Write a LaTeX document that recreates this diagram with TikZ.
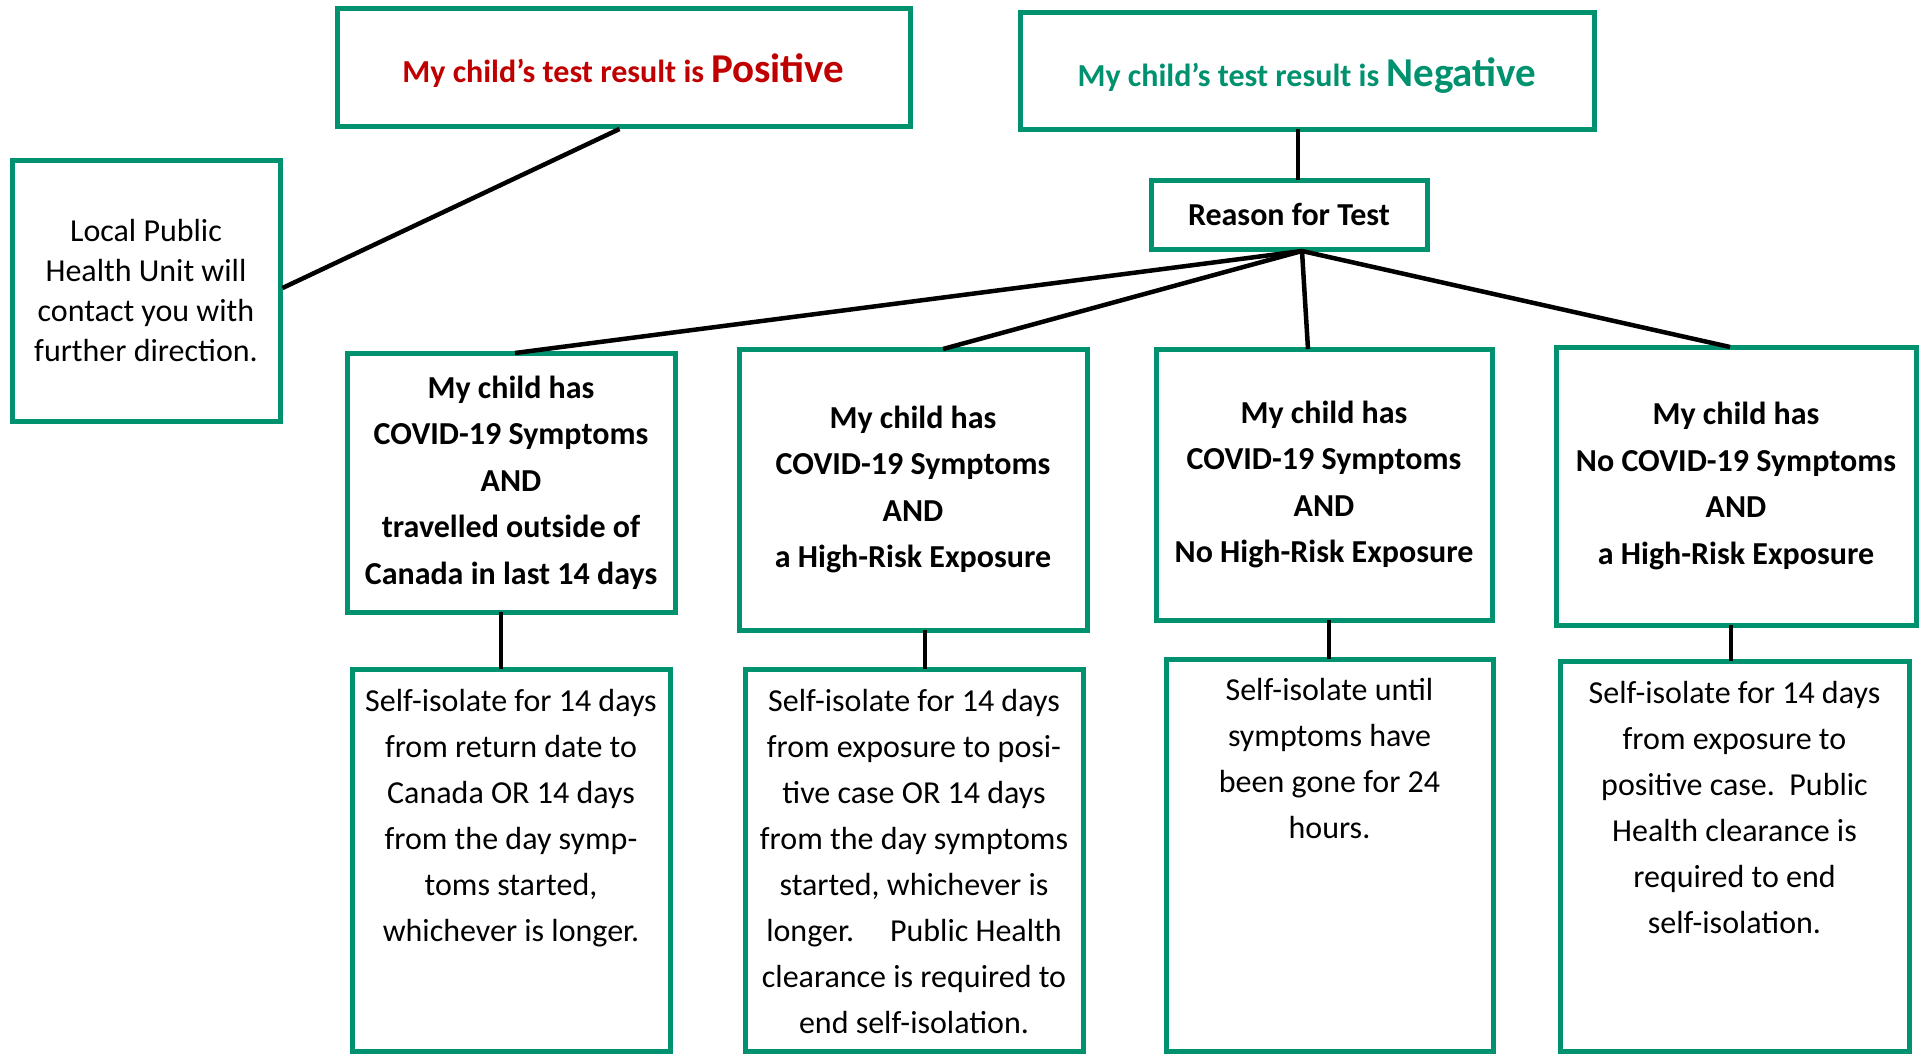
\documentclass[tikz,border=0pt]{standalone}
\usepackage{fontspec}
\setmainfont{Carlito}
\definecolor{grn}{RGB}{0,145,110}
\definecolor{rd}{RGB}{192,0,0}
\begin{document}
\begin{tikzpicture}[x=1pt,y=-1pt,
  box/.style={draw=grn,line width=5pt,fill=white,rectangle,inner sep=0pt,outer sep=0pt,align=center},
  conn/.style={line width=4.5pt,black},
  headfont/.style={font=\bfseries\fontsize{32}{46.5}\selectfont},
  titlefont/.style={inner sep=0pt,font=\bfseries\fontsize{32}{40}\selectfont},
  bodytext/.style={align=center,inner sep=0pt,font=\fontsize{32}{46}\selectfont},
  localfont/.style={font=\fontsize{32}{40}\selectfont}]
\useasboundingbox[fill=white] (0,0) rectangle (1923,1053);

% top row
\node[box,minimum width=573pt,minimum height=118pt] (pos) at (623.5,67) {};
\node[titlefont,text=rd] (post) at ([yshift=-4pt]pos.center)
  {My child’s test result is {\fontsize{41}{48}\selectfont Positive}};
\node[box,minimum width=574pt,minimum height=117pt] (neg) at (1307,70.5) {};
\node[titlefont,text=grn] (negt) at ([yshift=-5pt]neg.center)
  {My child’s test result is {\fontsize{41}{48}\selectfont Negative}};
\node[box,minimum width=268pt,minimum height=261pt,localfont] (loc) at (146,290.5)
  {Local Public\\Health Unit will\\contact you with\\further direction.};
\node[box,minimum width=276pt,minimum height=69pt,headfont] (reason) at (1289,214.5) {Reason for Test};

% middle row
\node[box,minimum width=328pt,minimum height=259pt,headfont] (c1) at (511,482.5)
  {My child has\\COVID-19 Symptoms\\AND\\travelled outside of\\Canada in last 14 days};
\node[box,minimum width=348pt,minimum height=281pt,headfont] (c2) at (913,489.5)
  {My child has\\COVID-19 Symptoms\\AND\\a High-Risk Exposure};
\node[box,minimum width=336pt,minimum height=271pt,headfont] (c3) at (1324,484.5)
  {My child has\\COVID-19 Symptoms\\AND\\No High-Risk Exposure};
\node[box,minimum width=360pt,minimum height=278pt,headfont] (c4) at (1736,486)
  {My child has\\No COVID-19 Symptoms\\AND\\a High-Risk Exposure};

% bottom row
\node[box,anchor=north,minimum width=318pt,minimum height=382pt] (b1) at (511,669) {};
\node[box,anchor=north,minimum width=338pt,minimum height=382pt] (b2) at (914,669) {};
\node[box,anchor=north,minimum width=327pt,minimum height=392pt] (b3) at (1329.5,659) {};
\node[box,anchor=north,minimum width=349pt,minimum height=390pt] (b4) at (1734.5,661) {};

\node[bodytext,anchor=north] (t1) at ([yshift=-20pt]b1.north)
  {Self-isolate for 14 days\\from return date to\\Canada OR 14 days\\from the day symp-\\toms started,\\whichever is longer.};
\node[bodytext,anchor=north] (t2) at ([yshift=-20pt]b2.north)
  {Self-isolate for 14 days\\from exposure to posi-\\tive case OR 14 days\\from the day symptoms\\started, whichever is\\longer.\hspace{36pt}Public Health\\clearance is required to\\end self-isolation.};
\node[bodytext,anchor=north] (t3) at ([yshift=-19pt]b3.north)
  {Self-isolate until\\symptoms have\\been gone for 24\\hours.};
\node[bodytext,anchor=north] (t4) at ([yshift=-20pt]b4.north)
  {Self-isolate for 14 days\\from exposure to\\positive case.\ \ Public\\Health clearance is\\required to end\\self-isolation.};

% connectors
\draw[conn] ([xshift=-4pt,yshift=-3pt]pos.south) -- ([xshift=2.5pt,yshift=2.5pt]loc.east);
\draw[conn] ([xshift=-9pt]neg.south) -- ([xshift=9pt]reason.north);
\coordinate (hub) at ([xshift=13pt,yshift=-2pt]reason.south);
\draw[conn] (hub) -- ([xshift=4pt]c1.north);
\draw[conn] (hub) -- ([xshift=30pt]c2.north);
\draw[conn] (hub) -- ([xshift=-16pt]c3.north);
\draw[conn] (hub) -- ([xshift=-6pt]c4.north);
\draw[conn] ([xshift=-10pt]c1.south) -- ([xshift=-10pt]c1.south |- b1.north);
\draw[conn] ([xshift=12pt]c2.south) -- ([xshift=12pt]c2.south |- b2.north);
\draw[conn] ([xshift=5pt]c3.south) -- ([xshift=5pt]c3.south |- b3.north);
\draw[conn] ([xshift=-5pt]c4.south) -- ([xshift=-5pt]c4.south |- b4.north);
\end{tikzpicture}
\end{document}
